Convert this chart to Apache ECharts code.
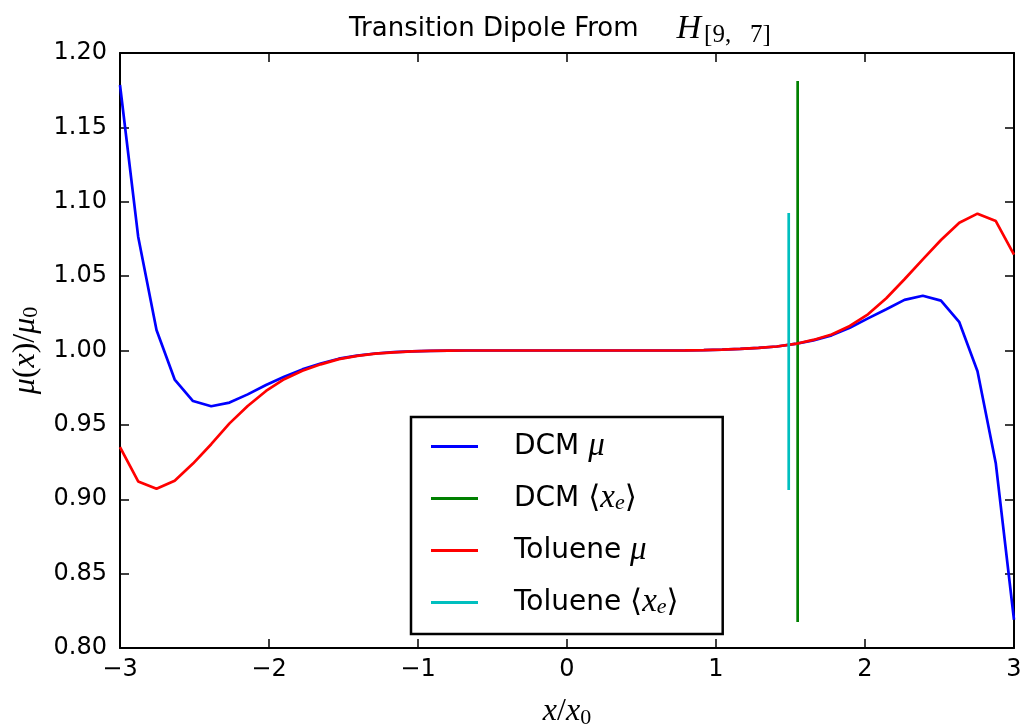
<!DOCTYPE html>
<html>
<head>
<meta charset="utf-8">
<script src="https://cdn.jsdelivr.net/npm/echarts@6/dist/echarts.min.js"></script>
<style>
  html, body { margin: 0; padding: 0; background: #fff; }
  #main { width: 1024px; height: 728px; }
</style>
</head>
<body>
<div id="main"></div>
<script>
// sample positions x/x0 (50 points, -3 .. 3)
var xs = [-3.000, -2.878, -2.755, -2.633, -2.510, -2.388, -2.265, -2.143, -2.020, -1.898,
  -1.776, -1.653, -1.531, -1.408, -1.286, -1.163, -1.041, -0.918, -0.796, -0.673,
  -0.551, -0.429, -0.306, -0.184, -0.061, 0.061, 0.184, 0.306, 0.429, 0.551,
  0.673, 0.796, 0.918, 1.041, 1.163, 1.286, 1.408, 1.531, 1.653, 1.776,
  1.898, 2.020, 2.143, 2.265, 2.388, 2.510, 2.633, 2.755, 2.878, 3.000];

var dcmMu = [1.1785, 1.0765, 1.0138, 0.9805, 0.9660, 0.9625, 0.9650, 0.9705, 0.9768, 0.9824,
  0.9873, 0.9913, 0.9945, 0.9966, 0.9980, 0.9989, 0.9994, 0.9997, 0.9999, 1.0000,
  1.0000, 1.0000, 1.0000, 1.0000, 1.0000, 1.0000, 1.0000, 1.0000, 1.0000, 1.0000,
  1.0000, 1.0001, 1.0003, 1.0006, 1.0011, 1.0018, 1.0027, 1.0044, 1.0068, 1.0102,
  1.0153, 1.0216, 1.0277, 1.0340, 1.0368, 1.0335, 1.0190, 0.9860, 0.9240, 0.8190];

var tolMu = [0.9350, 0.9120, 0.9070, 0.9125, 0.9240, 0.9370, 0.9510, 0.9627, 0.9728, 0.9807,
  0.9864, 0.9907, 0.9942, 0.9964, 0.9979, 0.9988, 0.9994, 0.9997, 0.9999, 1.0000,
  1.0000, 1.0000, 1.0000, 1.0000, 1.0000, 1.0000, 1.0000, 1.0000, 1.0000, 1.0000,
  1.0000, 1.0001, 1.0003, 1.0006, 1.0011, 1.0018, 1.0027, 1.0044, 1.0071, 1.0108,
  1.0165, 1.0243, 1.0351, 1.0479, 1.0613, 1.0743, 1.0859, 1.0920, 1.0870, 1.0645];

// mean electron position markers: x and [low, high]
var dcmXe = 1.548, dcmXeSpan = [0.8175, 1.1812];
var tolXe = 1.488, tolXeSpan = [0.9062, 1.0924];

var xTicks = [-3, -2, -1, 0, 1, 2, 3];
var yTicks = [0.80, 0.85, 0.90, 0.95, 1.00, 1.05, 1.10, 1.15, 1.20];

var names = ['DCM \u03bc', 'DCM \u27e8xe\u27e9', 'Toluene \u03bc', 'Toluene \u27e8xe\u27e9'];
var legendRich = {};
legendRich[names[0]] = '{d|DCM }{m|\u03bc}';
legendRich[names[1]] = '{d|DCM }{b|\u27e8}{m|x}{s|e}{b|\u27e9}';
legendRich[names[2]] = '{d|Toluene }{m|\u03bc}';
legendRich[names[3]] = '{d|Toluene }{b|\u27e8}{m|x}{s|e}{b|\u27e9}';

function pairs(x, y) {
  return x.map(function (v, i) { return [v, y[i]]; });
}

var MATH = 'Liberation Serif';
var SANS = 'DejaVu Sans';

var chart = echarts.init(document.getElementById('main'), null, {renderer: 'canvas'});

function mkX(pos, labels) {
  return {
    type: 'value', show: true, gridIndex: 0, position: pos,
    min: xTicks[0], max: xTicks[xTicks.length - 1], interval: 1,
    axisLine: {show: true, onZero: false, lineStyle: {color: '#000', width: 2}},
    axisTick: {show: true, inside: true, length: 9, lineStyle: {color: '#000', width: 1.5}},
    splitLine: {show: false},
    axisLabel: {show: labels, margin: 10, color: '#000', fontFamily: SANS, fontSize: 24,
      formatter: function (v) { return v < 0 ? '\u2212' + Math.abs(v) : String(v); }}
  };
}
function mkY(pos, labels) {
  return {
    type: 'value', show: true, gridIndex: 0, position: pos,
    min: yTicks[0], max: yTicks[yTicks.length - 1], interval: 0.05,
    axisLine: {show: true, onZero: false, lineStyle: {color: '#000', width: 2}},
    axisTick: {show: true, inside: true, length: 9, lineStyle: {color: '#000', width: 1.5}},
    splitLine: {show: false},
    axisLabel: {show: labels, margin: 13, color: '#000', fontFamily: SANS, fontSize: 24,
      formatter: function (v) { return v.toFixed(2); }}
  };
}

var nameRich = {
  m: {fontFamily: MATH, fontStyle: 'italic', fontWeight: 'normal', fontSize: 32, lineHeight: 34, color: '#000'},
  t: {fontFamily: MATH, fontWeight: 'normal', fontSize: 32, lineHeight: 34, color: '#000'},
  s: {fontFamily: MATH, fontWeight: 'normal', fontSize: 22, lineHeight: 18, verticalAlign: 'bottom', color: '#000'}
};

var xMain = mkX('bottom', true);
xMain.name = '{m|x}{t|/}{m|x}{s|0}';
xMain.nameLocation = 'middle';
xMain.nameGap = 47;
xMain.nameTextStyle = {rich: nameRich};

var yMain = mkY('left', true);
yMain.name = '{m|\u03bc}{t|(}{m|x}{t|)/}{m|\u03bc}{s|0}';
yMain.nameLocation = 'middle';
yMain.nameRotate = 90;
yMain.nameGap = 74;
yMain.nameTextStyle = {rich: nameRich};

function lineSeries(name, data, color, ax) {
  return {
    name: name, type: 'line', data: data, showSymbol: false, symbol: 'none',
    xAxisIndex: ax, yAxisIndex: ax,
    lineStyle: {color: color, width: 2.7}, itemStyle: {color: color}
  };
}

var option = {
  animation: false,
  backgroundColor: '#fff',
  title: {
    text: '{t|Transition Dipole From}{m|H}{s|[9,   7]}',
    left: 344, top: 5,
    textStyle: {fontWeight: 'normal', rich: {
      t: {fontFamily: SANS, fontWeight: 'normal', fontSize: 26, lineHeight: 38, color: '#000'},
      m: {fontFamily: MATH, fontStyle: 'italic', fontWeight: 'normal', fontSize: 34, lineHeight: 38,
        color: '#000', padding: [0, 3, 0, 38]},
      s: {fontFamily: MATH, fontWeight: 'normal', fontSize: 25, lineHeight: 16, verticalAlign: 'bottom', color: '#000'}
    }}
  },
  grid: {left: 120, right: 10, top: 53, bottom: 80, containLabel: false, outerBoundsMode: 'none'},
  xAxis: [xMain, mkX('top', false)],
  yAxis: [yMain, mkY('right', false)],
  legend: {
    data: names, orient: 'vertical', left: 411, top: 417,
    icon: 'rect', itemWidth: 47, itemHeight: 3, itemGap: 19,
    padding: [13, 44, 15, 20],
    borderColor: '#000', borderWidth: 2.5, backgroundColor: '#fff',
    formatter: function (n) { return legendRich[n]; },
    textStyle: {rich: {
      d: {fontFamily: SANS, fontSize: 28, lineHeight: 32, color: '#000', padding: [0, 0, 0, 31]},
      m: {fontFamily: MATH, fontStyle: 'italic', fontSize: 33, lineHeight: 32, color: '#000'},
      b: {fontFamily: 'DejaVu Serif', fontSize: 31, lineHeight: 32, color: '#000'},
      s: {fontFamily: MATH, fontStyle: 'italic', fontSize: 22, lineHeight: 14, verticalAlign: 'bottom', color: '#000'}
    }}
  },
  series: [
    lineSeries(names[0], pairs(xs, dcmMu), '#0000ff', 0),
    lineSeries(names[1], [[dcmXe, dcmXeSpan[0]], [dcmXe, dcmXeSpan[1]]], '#008000', 1),
    lineSeries(names[2], pairs(xs, tolMu), '#ff0000', 0),
    lineSeries(names[3], [[tolXe, tolXeSpan[0]], [tolXe, tolXeSpan[1]]], '#00bfbf', 1)
  ]
};
chart.setOption(option);
</script>
</body>
</html>
